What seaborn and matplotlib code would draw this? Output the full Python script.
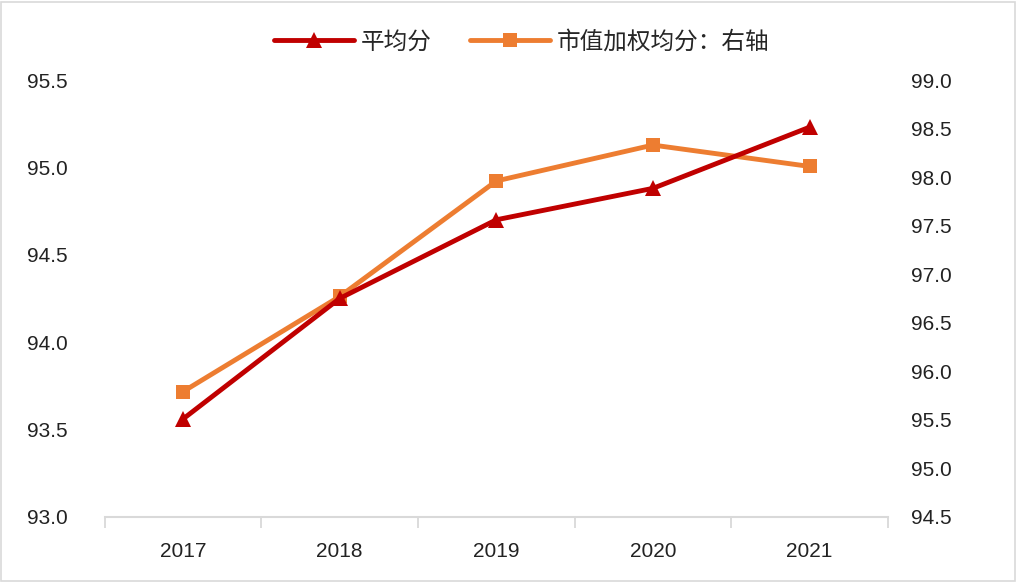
import matplotlib
matplotlib.use("Agg")
import matplotlib.pyplot as plt
import seaborn as sns
import pandas as pd
import numpy as np
from matplotlib.lines import Line2D
from matplotlib.patches import Rectangle

years = ["2017", "2018", "2019", "2020", "2021"]
avg_score = [93.56, 94.25, 94.70, 94.88, 95.23]
weighted_score = [95.79, 96.77, 97.96, 98.33, 98.11]
label_avg = "平均分"
label_weighted = "市值加权均分：右轴"
left_ticks = [93.0, 93.5, 94.0, 94.5, 95.0, 95.5]
right_ticks = [94.5, 95.0, 95.5, 96.0, 96.5, 97.0, 97.5, 98.0, 98.5, 99.0]

sns.set_theme(style="white")
plt.rcParams['font.family'] = ['Liberation Sans', 'Noto Sans CJK SC', 'DejaVu Sans']

RED = "#C00000"
ORANGE = "#ED7D31"

fig = plt.figure(figsize=(10.17, 5.82), dpi=100)
ax = fig.add_axes([0.103, 0.112, 0.77, 0.7505])
ax2 = ax.twinx()

df = pd.DataFrame({"x": np.arange(len(years)), "avg": avg_score, "w": weighted_score})

sns.lineplot(data=df, x="x", y="avg", ax=ax, color=RED, lw=3.5, marker="^",
             markersize=11, markeredgewidth=0, zorder=3)
sns.lineplot(data=df, x="x", y="w", ax=ax2, color=ORANGE, lw=3.5, marker="s",
             markersize=10, markeredgewidth=0, zorder=2)

ax.set_zorder(ax2.get_zorder() + 1)
ax.patch.set_visible(False)

ax.set_xlim(-0.5, len(years) - 0.5)
ax.set_ylim(93.0, 95.5)
ax2.set_ylim(94.5, 99.0)
ax.set_yticks(left_ticks)
ax.set_yticklabels([f"{v:.1f}" for v in left_ticks])
ax2.set_yticks(right_ticks)
ax2.set_yticklabels([f"{v:.1f}" for v in right_ticks])

ax.set_xticks(np.arange(len(years)))
ax.set_xticklabels(years)
ax.set_xticks(np.arange(-0.5, len(years)), minor=True)
ax.tick_params(axis="x", which="major", bottom=True, length=0, pad=18, labelsize=15, labelcolor="#222222")
ax.tick_params(axis="x", which="minor", bottom=True, length=8, width=1.3, color="#D9D9D9", direction="out")
ax.tick_params(axis="y", length=0, pad=56, labelsize=15, labelcolor="#222222")
ax2.tick_params(axis="y", length=0, pad=17, labelsize=15, labelcolor="#222222")
for lab in ax.get_yticklabels():
    lab.set_horizontalalignment("left")
ax.set_xlabel("")
ax.set_ylabel("")
ax2.set_ylabel("")

for a in (ax, ax2):
    for s in ["top", "left", "right", "bottom"]:
        a.spines[s].set_visible(False)
ax.spines["bottom"].set_visible(True)
ax.spines["bottom"].set_color("#D9D9D9")
ax.spines["bottom"].set_linewidth(1.5)
ax.grid(False)
ax2.grid(False)

handles = [
    Line2D([0], [0], color=RED, lw=3.5, marker="^", markersize=11, markeredgewidth=0),
    Line2D([0], [0], color=ORANGE, lw=3.5, marker="s", markersize=10, markeredgewidth=0),
]
leg = fig.legend(handles, [label_avg, label_weighted], loc="center", bbox_to_anchor=(0.513, 0.928),
                 ncol=2, frameon=False, handlelength=3.4, columnspacing=1.6, handletextpad=0.3,
                 prop={"family": ["Noto Sans CJK SC", "DejaVu Sans"], "size": 17})

fig.patches.append(Rectangle((0.001, 0.002), 0.997, 0.995, transform=fig.transFigure,
                             fill=False, edgecolor="#D9D9D9", lw=1.2))

fig.savefig("out.png", dpi=100)
